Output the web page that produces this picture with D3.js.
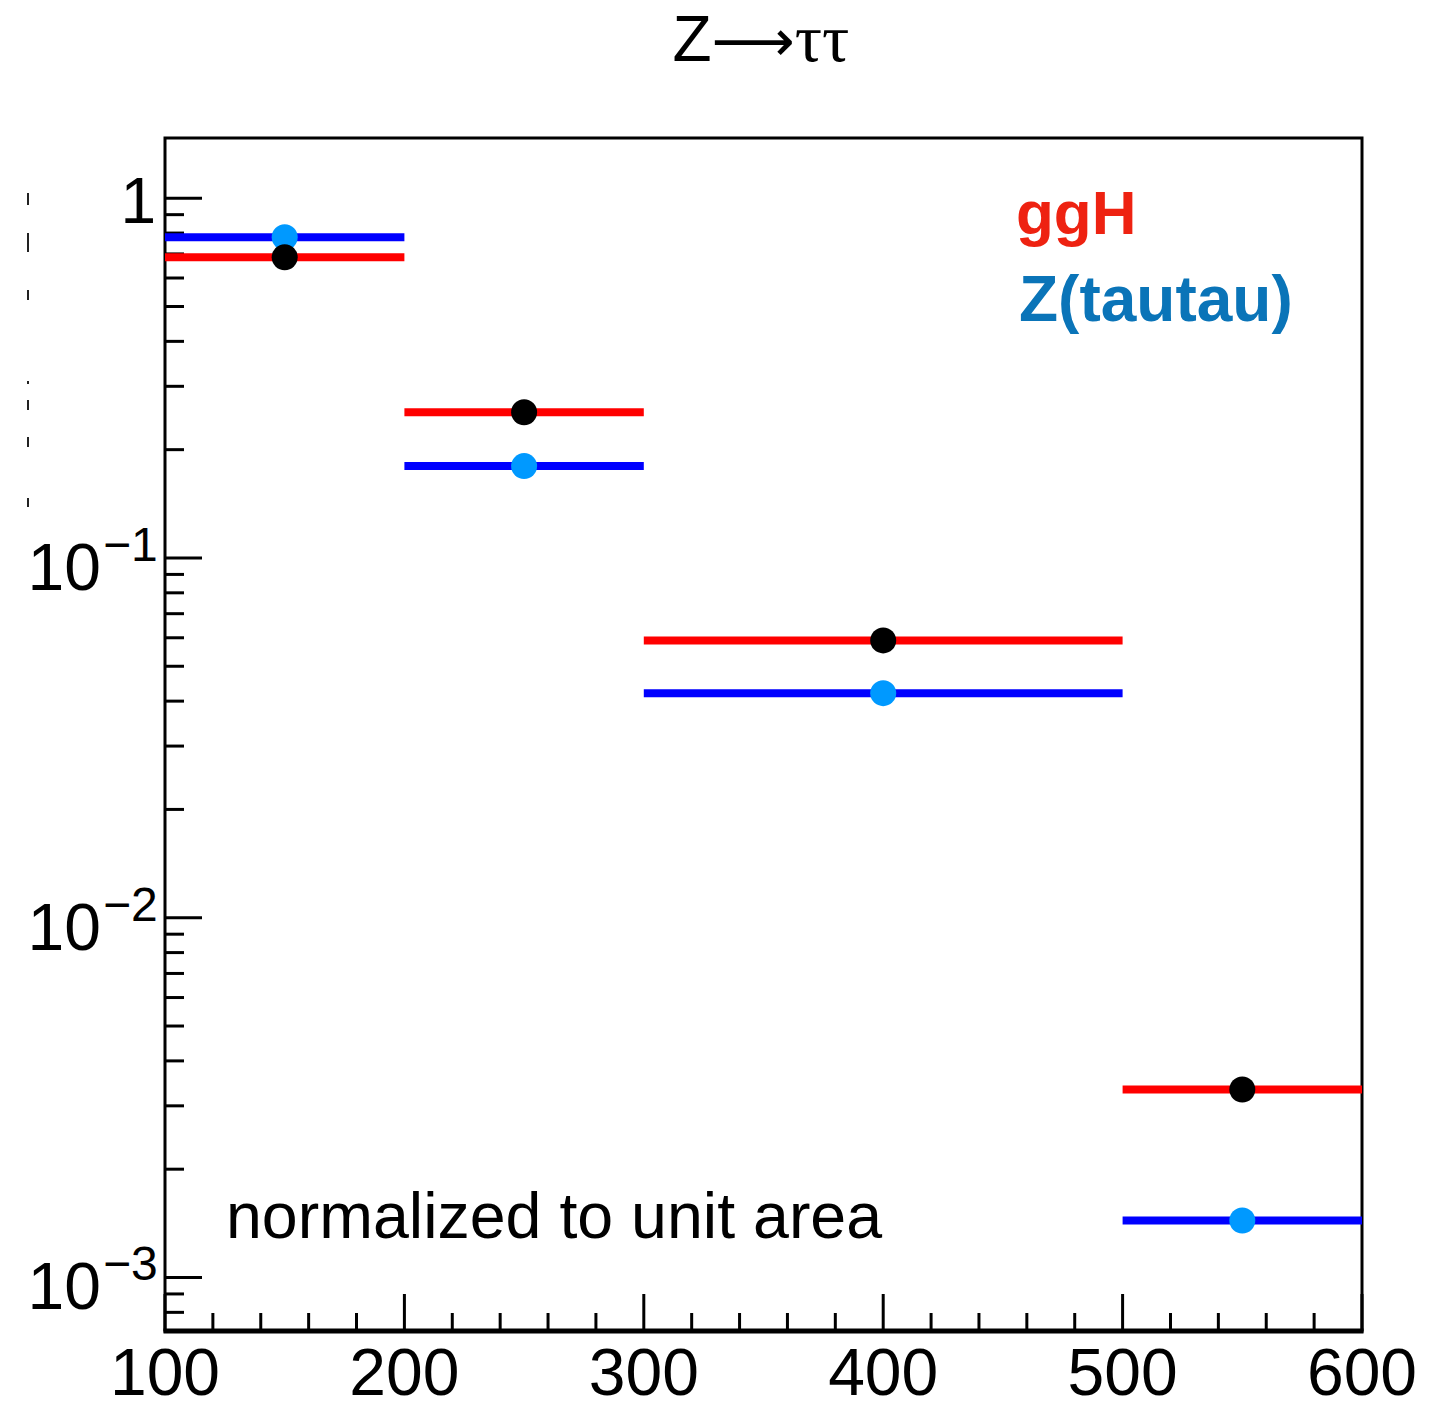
<!DOCTYPE html>
<html>
<head>
<meta charset="utf-8">
<script src="https://cdn.jsdelivr.net/npm/d3@7"></script>
<style>
  body { margin: 0; background: #fff; }
  svg { display: block; }
</style>
</head>
<body>
<div id="chart"></div>
<script>
// bin edges and normalized contents
const binEdges = [100, 200, 300, 500, 600];
const ggH = [0.685, 0.254, 0.0590, 0.00333];
const zTauTau = [0.779, 0.180, 0.0421, 0.00144];
const xTicksMajor = [100, 200, 300, 400, 500, 600];
const yTicksMajor = [1e-3, 1e-2, 1e-1, 1];
const yTickLabels = [["10", "\u22123"], ["10", "\u22122"], ["10", "\u22121"], ["1", ""]];

const W = 1444, H = 1403;
const frame = {left: 165, right: 1362, top: 138, bottom: 1331};

const svg = d3.select("#chart").append("svg")
    .attr("width", W).attr("height", H);

const x = d3.scaleLinear().domain([100, 600]).range([frame.left, frame.right]);
const y = d3.scaleLog().domain([0.00071, 1.47]).range([frame.bottom, frame.top]);

// title
const title = svg.append("text")
    .attr("x", 761).attr("y", 61)
    .attr("text-anchor", "middle")
    .style("font-size", "64px");
title.append("tspan").style("font-family", "Liberation Sans, Arial, sans-serif").text("Z");
title.append("tspan").style("font-family", "DejaVu Sans, sans-serif").style("font-size", "58px").text("\u27f6");
title.append("tspan").style("font-family", "Liberation Serif, DejaVu Serif, serif").style("font-size", "68px").text("\u03c4\u03c4");

// little scan leftovers at the far left
const leftDashes = [[193, 205], [233, 252], [290, 300], [381, 384], [400, 410], [437, 447], [498, 507]];
svg.append("g").selectAll("line").data(leftDashes).join("line")
    .attr("x1", 28).attr("x2", 28)
    .attr("y1", d => d[0]).attr("y2", d => d[1])
    .attr("stroke", "#222").attr("stroke-width", 2);

// y ticks (log), pointing inward
const yMinor = y.ticks().filter(v => !yTicksMajor.some(m => Math.abs(v / m - 1) < 1e-6));
svg.append("g").selectAll("line").data(yMinor).join("line")
    .attr("x1", frame.left).attr("x2", frame.left + 19)
    .attr("y1", d => y(d)).attr("y2", d => y(d))
    .attr("stroke", "#000").attr("stroke-width", 3);
svg.append("g").selectAll("line").data(yTicksMajor).join("line")
    .attr("x1", frame.left).attr("x2", frame.left + 37)
    .attr("y1", d => y(d)).attr("y2", d => y(d))
    .attr("stroke", "#000").attr("stroke-width", 3);

// y labels with exponents
const yLab = svg.append("g").style("font-family", "Liberation Sans, Arial, sans-serif");
yTicksMajor.forEach((v, i) => {
  const [base, exp] = yTickLabels[i];
  if (exp === "") {
    yLab.append("text").attr("x", 156).attr("y", y(v) + 25)
      .attr("text-anchor", "end").style("font-size", "64px").text(base);
  } else {
    yLab.append("text").attr("x", 101).attr("y", y(v) + 32)
      .attr("text-anchor", "end").style("font-size", "66px").text(base);
    yLab.append("text").attr("x", 103).attr("y", y(v) + 3)
      .attr("text-anchor", "start").style("font-size", "48px").text(exp);
  }
});

// x ticks
const xMinor = d3.range(100, 601, 20).filter(v => v % 100 !== 0);
svg.append("g").selectAll("line").data(xMinor).join("line")
    .attr("x1", d => x(d)).attr("x2", d => x(d))
    .attr("y1", frame.bottom).attr("y2", frame.bottom - 18)
    .attr("stroke", "#000").attr("stroke-width", 3);
svg.append("g").selectAll("line").data(xTicksMajor).join("line")
    .attr("x1", d => x(d)).attr("x2", d => x(d))
    .attr("y1", frame.bottom).attr("y2", frame.bottom - 37)
    .attr("stroke", "#000").attr("stroke-width", 3);
svg.append("g").selectAll("text").data(xTicksMajor).join("text")
    .attr("x", d => x(d)).attr("y", 1395)
    .attr("text-anchor", "middle")
    .style("font-family", "Liberation Sans, Arial, sans-serif")
    .style("font-size", "66px")
    .text(d => d);

// frame
svg.append("rect")
    .attr("x", frame.left).attr("y", frame.top)
    .attr("width", frame.right - frame.left).attr("height", frame.bottom - frame.top)
    .attr("fill", "none").attr("stroke", "#000").attr("stroke-width", 3);
svg.append("line")
    .attr("x1", frame.left - 1.5).attr("x2", frame.right + 1.5)
    .attr("y1", frame.bottom).attr("y2", frame.bottom)
    .attr("stroke", "#000").attr("stroke-width", 5);

// histogram bins
const bins = d3.range(ggH.length).map(i => ({
  lo: binEdges[i], hi: binEdges[i + 1], mid: (binEdges[i] + binEdges[i + 1]) / 2,
  ggH: ggH[i], ztt: zTauTau[i]
}));

svg.append("g").selectAll("line").data(bins).join("line")
    .attr("x1", d => x(d.lo)).attr("x2", d => x(d.hi))
    .attr("y1", d => y(d.ztt)).attr("y2", d => y(d.ztt))
    .attr("stroke", "#0000ff").attr("stroke-width", 8);
svg.append("g").selectAll("line").data(bins).join("line")
    .attr("x1", d => x(d.lo)).attr("x2", d => x(d.hi))
    .attr("y1", d => y(d.ggH)).attr("y2", d => y(d.ggH))
    .attr("stroke", "#ff0000").attr("stroke-width", 8);

svg.append("g").selectAll("circle").data(bins).join("circle")
    .attr("cx", d => x(d.mid)).attr("cy", d => y(d.ztt)).attr("r", 13)
    .attr("fill", "#0099ff");
svg.append("g").selectAll("circle").data(bins).join("circle")
    .attr("cx", d => x(d.mid)).attr("cy", d => y(d.ggH)).attr("r", 13)
    .attr("fill", "#000");

// legend text
svg.append("text").attr("x", 1016).attr("y", 234)
    .style("font-family", "Liberation Sans, Arial, sans-serif")
    .style("font-weight", "bold").style("font-size", "62px")
    .attr("fill", "#ee2211").text("ggH");
svg.append("text").attr("x", 1019).attr("y", 321)
    .style("font-family", "Liberation Sans, Arial, sans-serif")
    .style("font-weight", "bold").style("font-size", "64px")
    .attr("fill", "#0a74b8").text("Z(tautau)");

svg.append("text").attr("x", 226).attr("y", 1238)
    .style("font-family", "Liberation Sans, Arial, sans-serif")
    .style("font-size", "64.5px")
    .attr("fill", "#000").text("normalized to unit area");
</script>
</body>
</html>
